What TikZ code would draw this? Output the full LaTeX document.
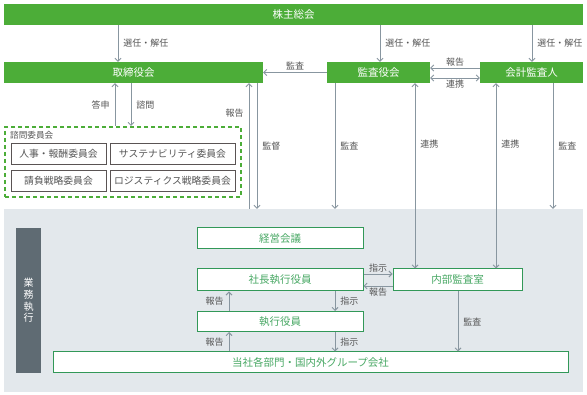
\documentclass[tikz,border=0pt]{standalone}
\usepackage{fontspec}
\setmainfont{Noto Sans CJK JP}
\usetikzlibrary{positioning,arrows.meta}
\definecolor{barGreen}{RGB}{76,173,56}
\definecolor{boxGreen}{RGB}{50,152,88}
\definecolor{txtGreen}{RGB}{72,168,100}
\definecolor{arrGray}{RGB}{136,150,160}
\definecolor{lblGray}{RGB}{85,85,85}
\definecolor{areaGray}{RGB}{227,232,236}
\definecolor{sideGray}{RGB}{95,107,115}
\definecolor{cmtGray}{RGB}{90,84,84}

\begin{document}
\begin{tikzpicture}[x=1pt,y=-1pt,
  bar/.style={fill=barGreen,text=white,minimum height=21pt,inner sep=0pt,
    font=\fontsize{10.5}{12}\selectfont},
  wbox/.style={draw=boxGreen,line width=1pt,fill=white,text=txtGreen,
    minimum height=21pt,inner sep=0pt,font=\fontsize{10.5}{12}\selectfont},
  cbox/.style={draw=cmtGray,line width=0.9pt,fill=white,text=lblGray,
    minimum height=21pt,inner sep=0pt,font=\fontsize{9.8}{12}\selectfont},
  arr/.style={draw=arrGray,line width=0.9pt,-{Straight Barb[length=3pt,width=6pt]}},
  darr/.style={draw=arrGray,line width=0.9pt,{Straight Barb[length=3pt,width=6pt]}-{Straight Barb[length=3pt,width=6pt]}},
  lbl/.style={text=lblGray,font=\fontsize{9}{10}\selectfont,inner sep=5pt}]
\useasboundingbox[fill=white] (0,0) rectangle (587,395);
% Execution area
\node[fill=areaGray,minimum width=579pt,minimum height=183pt,inner sep=0pt] (area) at (293.5,300.5) {};
\node[fill=sideGray,text=white,minimum width=25pt,minimum height=145pt,inner sep=0pt,
  align=center,font=\fontsize{10}{11.7}\selectfont] (side) at (28.5,300.5) {業\\務\\執\\行};
% Governance nodes
\node[bar,minimum width=579pt] (soukai) at (293.5,14.5) {株主総会};
\node[bar,minimum width=259pt] (tori) at (133.5,72.5) {取締役会};
\node[bar,minimum width=103pt] (kansa) at (378.5,72.5) {監査役会};
\node[bar,minimum width=103pt] (kaikei) at (531.5,72.5) {会計監査人};
% Advisory committees
\node[draw=barGreen,line width=2pt,dash pattern=on 4pt off 3pt,minimum width=236pt,
  minimum height=70pt,inner sep=0pt] (shimon) at (123,162) {};
\node[lbl,anchor=west,inner sep=0pt,font=\fontsize{8.6}{10}\selectfont] (shimont) at (10,135) {諮問委員会};
\node[cbox,minimum width=95pt] (c1) at (58.5,153.5) {人事・報酬委員会};
\node[cbox,minimum width=125pt] (c2) at (172.5,153.5) {サステナビリティ委員会};
\node[cbox,minimum width=95pt] (c3) at (58.5,180.5) {請負戦略委員会};
\node[cbox,minimum width=125pt] (c4) at (172.5,180.5) {ロジスティクス戦略委員会};
% Execution nodes
\node[wbox,minimum width=166pt] (keiei) at (280,238.5) {経営会議};
\node[wbox,minimum width=166pt,minimum height=22pt] (shacho) at (280,280) {社長執行役員};
\node[wbox,minimum width=166pt,minimum height=20pt] (shikko) at (280,321.5) {執行役員};
\node[wbox,minimum width=515pt] (tousha) at (310.5,362.5) {当社各部門・国内外グループ会社};
\node[wbox,minimum width=129pt,minimum height=22pt] (naibu) at (457.5,280) {内部監査室};
% Top connectors
\draw[arr] (soukai.south -| 118,0) -- node[lbl,right] {選任・解任} (tori.north -| 118,0);
\draw[arr] (soukai.south -| 380,0) -- node[lbl,right] {選任・解任} (kansa.north -| 380,0);
\draw[arr] (soukai.south -| 532,0) -- node[lbl,right] {選任・解任} (kaikei.north -| 532,0);
\draw[arr] (kansa.west) -- node[lbl,above,inner sep=2pt] {監査} (tori.east);
\draw[arr] (kaikei.west |- 0,68) -- node[lbl,above,inner sep=1pt] {報告} (kansa.east |- 0,68);
\draw[darr] (kansa.east |- 0,78) -- node[lbl,below,inner sep=1pt] {連携} (kaikei.west |- 0,78);
\draw[arr] (shimon.north -| 115,0) -- node[lbl,left] {答申} (tori.south -| 115,0);
\draw[arr] (tori.south -| 131,0) -- node[lbl,right] {諮問} (shimon.north -| 131,0);
\draw[arr] (area.north -| 249,0) -- node[lbl,left,pos=0.76] {報告} (tori.south -| 249,0);
\draw[arr] (tori.south -| 257,0) -- node[lbl,right] {監督} (area.north -| 257,0);
\draw[arr] (kansa.south -| 335,0) -- node[lbl,right] {監査} (area.north -| 335,0);
\draw[darr] (kansa.south -| 415,0) -- node[lbl,right,pos=0.33] {連携} (naibu.north -| 415,0);
\draw[darr] (kaikei.south -| 496,0) -- node[lbl,right,pos=0.33] {連携} (naibu.north -| 496,0);
\draw[arr] (kaikei.south -| 553,0) -- node[lbl,right] {監査} (area.north -| 553,0);
% Execution connectors
\draw[arr] (shacho.east |- 0,274) -- node[lbl,above,inner sep=1pt] {指示} (naibu.west |- 0,274);
\draw[arr] (naibu.west |- 0,286) -- node[lbl,below,inner sep=1pt] {報告} (shacho.east |- 0,286);
\draw[arr] (shacho.south -| 335,0) -- node[lbl,right] {指示} (shikko.north -| 335,0);
\draw[arr] (shikko.north -| 229,0) -- node[lbl,left] {報告} (shacho.south -| 229,0);
\draw[arr] (tousha.north -| 229,0) -- node[lbl,left] {報告} (shikko.south -| 229,0);
\draw[arr] (shikko.south -| 335,0) -- node[lbl,right] {指示} (tousha.north -| 335,0);
\draw[arr] (naibu.south -| 458,0) -- node[lbl,right] {監査} (tousha.north -| 458,0);
\end{tikzpicture}
\end{document}
